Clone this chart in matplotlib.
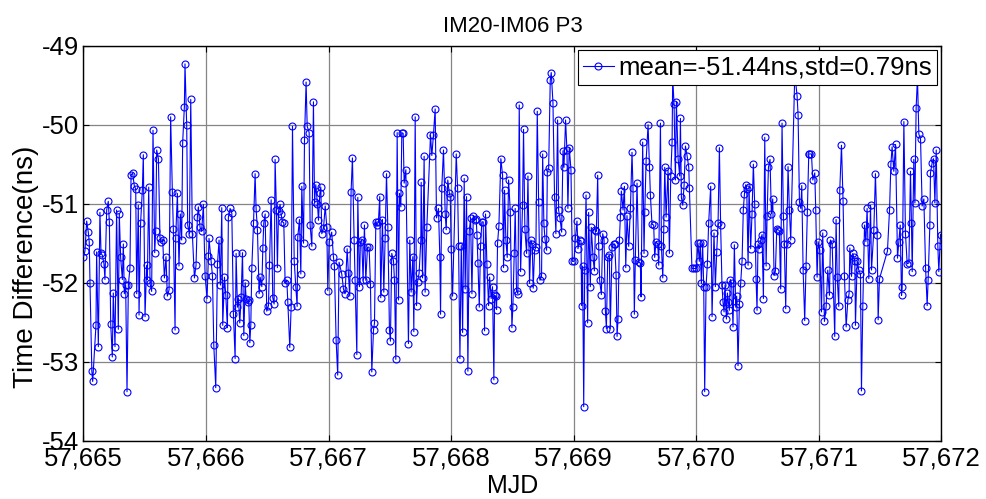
import matplotlib
matplotlib.use("Agg")
import matplotlib.pyplot as plt
from matplotlib import font_manager
from matplotlib.ticker import FuncFormatter
import numpy as np

title = "IM20-IM06 P3"
xlabel = "MJD"
ylabel = "Time Difference(ns)"
legend_label = "mean=-51.44ns,std=0.79ns"
mjd_start = 57665
x_ticks = [57665, 57666, 57667, 57668, 57669, 57670, 57671, 57672]
y_ticks = [-54, -53, -52, -51, -50, -49]

# time offsets (days after MJD 57665) and time differences (ns), read per day
t_day1 = [0.000, 0.012, 0.026, 0.039, 0.047, 0.053, 0.068, 0.075, 0.102, 0.107,
          0.121, 0.134, 0.143, 0.153, 0.167, 0.175, 0.189, 0.202, 0.211, 0.222,
          0.235, 0.243, 0.257, 0.270, 0.284, 0.292, 0.303, 0.317, 0.325, 0.333,
          0.344, 0.355, 0.366, 0.379, 0.388, 0.401, 0.415, 0.426, 0.434, 0.447,
          0.453, 0.466, 0.480, 0.488, 0.502, 0.515, 0.521, 0.532, 0.543, 0.556,
          0.567, 0.581, 0.589, 0.597, 0.611, 0.624, 0.632, 0.646, 0.660, 0.673,
          0.684, 0.698, 0.711, 0.725, 0.733, 0.747, 0.752, 0.766, 0.779, 0.790,
          0.801, 0.809, 0.823, 0.828, 0.842, 0.850, 0.864, 0.875, 0.888, 0.905,
          0.918, 0.929, 0.937, 0.951, 0.964, 0.978, 0.992, 1.008, 1.019, 1.024]
v_day1 = [-51.67, -51.60, -51.22, -51.36, -51.49, -52.00, -53.12, -53.25, -52.53, -51.61,
          -52.81, -51.11, -51.63, -51.65, -51.76, -51.96, -51.08, -50.97, -51.23, -52.52,
          -52.94, -52.13, -52.81, -51.08, -52.59, -51.13, -51.68, -51.96, -51.51, -52.14,
          -52.03, -53.38, -52.03, -51.81, -50.64, -50.61, -50.78, -50.81, -52.14, -51.02,
          -52.41, -51.24, -50.83, -50.38, -52.43, -51.78, -51.96, -50.79, -52.01, -52.11,
          -50.07, -51.62, -51.34, -50.32, -50.43, -51.43, -51.48, -51.46, -51.94, -51.67,
          -52.17, -52.09, -49.90, -50.85, -51.32, -52.60, -51.43, -50.87, -51.79, -51.13,
          -51.46, -50.23, -49.77, -49.23, -50.01, -51.27, -51.38, -49.68, -51.38, -51.94,
          -51.78, -51.17, -51.04, -51.30, -51.35, -51.01, -51.91, -52.20, -51.66, -51.44]

t_day2 = [1.041, 1.052, 1.063, 1.079, 1.093, 1.106, 1.117, 1.128, 1.136, 1.150,
          1.161, 1.174, 1.182, 1.196, 1.210, 1.223, 1.237, 1.245, 1.256, 1.264,
          1.275, 1.286, 1.297, 1.308, 1.319, 1.327, 1.338, 1.348, 1.357, 1.365,
          1.373, 1.387, 1.400, 1.408, 1.419, 1.433, 1.441, 1.455, 1.463, 1.471,
          1.482, 1.495, 1.509, 1.517, 1.531, 1.544, 1.555, 1.563, 1.574, 1.582,
          1.591, 1.604, 1.612, 1.623, 1.634, 1.645, 1.659, 1.667, 1.683, 1.694,
          1.705, 1.719, 1.732, 1.743, 1.748, 1.762, 1.773, 1.781, 1.795, 1.803,
          1.816, 1.825, 1.841, 1.849, 1.863, 1.876, 1.885, 1.895, 1.909, 1.917,
          1.928, 1.936, 1.944, 1.958, 1.972, 1.985, 1.993, 2.004]
v_day2 = [-51.72, -51.91, -52.79, -53.33, -51.76, -51.46, -52.03, -51.05, -52.54, -51.93,
          -52.16, -52.57, -51.17, -51.06, -51.12, -52.39, -52.96, -51.63, -52.31, -52.20,
          -52.51, -52.18, -51.62, -52.67, -52.00, -52.20, -52.24, -52.22, -52.76, -52.53,
          -51.82, -51.25, -50.62, -51.06, -51.33, -52.14, -51.93, -52.05, -51.56, -51.24,
          -51.13, -52.36, -52.29, -51.78, -50.95, -52.19, -52.27, -50.44, -51.08, -51.81,
          -51.09, -51.01, -51.13, -51.23, -51.24, -52.00, -51.97, -52.25, -52.82, -52.31,
          -50.02, -51.72, -52.05, -52.30, -51.42, -51.20, -51.89, -50.78, -51.50, -50.19,
          -49.46, -50.02, -50.10, -51.27, -51.54, -49.71, -50.98, -50.76, -51.01, -51.21,
          -50.87, -50.79, -51.38, -51.31, -51.03, -51.30, -52.10, -51.48]

t_day3 = [2.025, 2.039, 2.047, 2.061, 2.074, 2.085, 2.107, 2.121, 2.134, 2.151,
          2.161, 2.172, 2.183, 2.194, 2.208, 2.216, 2.230, 2.238, 2.251, 2.259,
          2.270, 2.281, 2.292, 2.303, 2.317, 2.330, 2.341, 2.352, 2.366, 2.374,
          2.385, 2.395, 2.406, 2.417, 2.425, 2.439, 2.450, 2.461, 2.472, 2.483,
          2.496, 2.504, 2.515, 2.529, 2.537, 2.548, 2.559, 2.570, 2.578, 2.589,
          2.597, 2.608, 2.616, 2.630, 2.651, 2.662, 2.673, 2.687, 2.695, 2.706,
          2.717, 2.725, 2.738, 2.752, 2.755, 2.766, 2.779, 2.787, 2.801, 2.831,
          2.842, 2.855, 2.869, 2.880, 2.896, 2.907, 2.913, 2.923, 2.937, 2.951,
          2.959, 2.972]
v_day3 = [-51.36, -51.67, -51.79, -52.73, -53.17, -51.74, -51.89, -52.08, -52.14, -51.57,
          -51.88, -52.17, -50.85, -50.42, -51.46, -51.97, -52.91, -50.92, -52.05, -51.48,
          -51.46, -51.97, -51.27, -51.97, -51.55, -51.55, -52.02, -53.13, -52.60, -52.51,
          -51.23, -51.27, -51.23, -50.91, -52.19, -51.20, -52.12, -51.43, -50.62, -51.30,
          -52.60, -52.74, -51.63, -51.72, -51.97, -52.97, -50.10, -52.22, -50.87, -51.04,
          -50.10, -50.11, -50.74, -50.57, -52.77, -51.46, -52.12, -51.67, -52.62, -49.90,
          -52.29, -51.99, -51.88, -51.46, -50.73, -51.94, -50.40, -52.12, -51.30, -50.13,
          -50.39, -50.13, -49.80, -51.18, -51.06, -51.67, -52.40, -50.80, -50.32, -51.13,
          -51.33, -50.70]

t_day4 = [2.984, 2.992, 3.000, 3.011, 3.041, 3.052, 3.060, 3.071, 3.082, 3.093,
          3.106, 3.114, 3.125, 3.136, 3.147, 3.158, 3.169, 3.180, 3.190, 3.204,
          3.210, 3.218, 3.229, 3.239, 3.250, 3.261, 3.272, 3.280, 3.291, 3.305,
          3.313, 3.326, 3.337, 3.348, 3.354, 3.362, 3.370, 3.378, 3.389, 3.405,
          3.419, 3.427, 3.435, 3.446, 3.457, 3.468, 3.482, 3.495, 3.503, 3.514,
          3.522, 3.533, 3.544, 3.555, 3.566, 3.582, 3.590, 3.601, 3.615, 3.626,
          3.639, 3.650, 3.661, 3.669, 3.680, 3.691, 3.702, 3.713, 3.724, 3.737,
          3.746, 3.756, 3.765, 3.778, 3.784, 3.795, 3.808, 3.816, 3.830, 3.843,
          3.854, 3.868, 3.876, 3.887, 3.901, 3.912, 3.920, 3.933, 3.944, 3.952,
          3.963]
v_day4 = [-50.86, -50.91, -51.57, -52.17, -50.37, -50.80, -51.54, -52.96, -51.53, -52.63,
          -50.68, -52.08, -50.91, -53.12, -51.35, -51.18, -52.14, -51.15, -51.20, -51.19,
          -51.39, -51.75, -52.31, -51.54, -51.23, -51.23, -52.61, -51.13, -51.76, -52.29,
          -51.93, -52.20, -52.05, -53.23, -52.16, -52.17, -52.34, -51.50, -51.28, -50.43,
          -50.64, -51.81, -50.83, -51.46, -51.68, -50.70, -51.10, -52.57, -52.31, -51.63,
          -51.06, -52.10, -52.14, -49.75, -51.86, -51.02, -50.06, -51.32, -51.63, -50.65,
          -52.01, -51.46, -51.51, -52.07, -51.59, -51.55, -49.83, -50.98, -51.97, -51.92,
          -50.37, -51.25, -51.45, -51.59, -50.60, -50.55, -49.44, -49.34, -49.72, -50.91,
          -51.38, -49.94, -51.08, -51.18, -51.36, -50.33, -50.54, -49.94, -50.32, -51.06,
          -50.29]

t_day5 = [3.977, 3.988, 4.002, 4.013, 4.026, 4.034, 4.048, 4.059, 4.064, 4.072,
          4.081, 4.089, 4.100, 4.113, 4.121, 4.135, 4.143, 4.157, 4.168, 4.176,
          4.184, 4.195, 4.203, 4.211, 4.225, 4.236, 4.247, 4.258, 4.266, 4.277,
          4.290, 4.298, 4.312, 4.326, 4.334, 4.345, 4.353, 4.361, 4.372, 4.380,
          4.388, 4.402, 4.413, 4.424, 4.434, 4.448, 4.462, 4.475, 4.483, 4.494,
          4.502, 4.516, 4.530, 4.543, 4.549, 4.562, 4.573, 4.579, 4.590, 4.606,
          4.617, 4.625, 4.638, 4.652, 4.660, 4.671, 4.685, 4.693, 4.707, 4.715,
          4.726, 4.734, 4.742, 4.753, 4.769, 4.780, 4.791, 4.802, 4.807, 4.818,
          4.829, 4.837, 4.851, 4.864, 4.870, 4.878, 4.889, 4.900, 4.911, 4.924,
          4.938, 4.943]
v_day5 = [-50.57, -51.73, -51.73, -51.44, -51.22, -51.57, -51.46, -51.47, -52.29, -51.79,
          -53.57, -51.84, -50.89, -52.51, -51.11, -52.05, -51.30, -51.68, -51.85, -51.33,
          -51.35, -50.64, -51.54, -51.97, -52.15, -51.38, -51.46, -52.36, -52.58, -51.68,
          -51.65, -52.58, -51.55, -51.51, -51.51, -51.90, -52.68, -52.46, -51.46, -51.17,
          -50.84, -51.08, -50.78, -51.81, -51.15, -51.54, -51.06, -50.35, -50.80, -52.40,
          -51.71, -50.74, -51.74, -51.75, -52.18, -50.22, -51.63, -51.11, -50.46, -50.00,
          -50.54, -50.89, -51.26, -51.27, -51.68, -51.48, -51.51, -51.78, -49.98, -51.54,
          -51.94, -51.32, -50.54, -51.17, -50.58, -51.63, -50.65, -50.22, -49.40, -49.74,
          -50.70, -49.71, -50.43, -50.65, -49.92, -50.92, -51.02, -50.76, -50.27, -50.39,
          -50.54, -50.80]

t_day6 = [4.964, 4.983, 5.000, 5.013, 5.024, 5.032, 5.041, 5.051, 5.060, 5.068,
          5.079, 5.090, 5.100, 5.117, 5.128, 5.144, 5.155, 5.166, 5.177, 5.188,
          5.198, 5.209, 5.217, 5.226, 5.234, 5.245, 5.253, 5.261, 5.269, 5.277,
          5.288, 5.299, 5.310, 5.321, 5.329, 5.340, 5.351, 5.362, 5.373, 5.383,
          5.392, 5.403, 5.411, 5.422, 5.430, 5.443, 5.454, 5.465, 5.476, 5.487,
          5.495, 5.503, 5.514, 5.525, 5.536, 5.547, 5.558, 5.569, 5.577, 5.588,
          5.601, 5.612, 5.623, 5.634, 5.645, 5.656, 5.666, 5.677, 5.688, 5.699,
          5.710, 5.718, 5.729, 5.737, 5.748, 5.759, 5.770, 5.803, 5.822, 5.830,
          5.841, 5.852, 5.860, 5.871, 5.884, 5.895, 5.906, 5.917]
v_day6 = [-51.82, -51.82, -51.82, -51.50, -51.73, -51.50, -52.01, -51.50, -52.05, -53.38,
          -52.05, -51.76, -51.25, -50.78, -52.43, -51.37, -52.05, -51.61, -51.25, -50.29,
          -51.27, -52.03, -52.24, -52.37, -52.03, -52.46, -52.13, -52.24, -52.35, -51.96,
          -52.01, -52.56, -51.52, -52.31, -52.17, -53.05, -52.27, -52.00, -51.72, -51.08,
          -50.88, -50.76, -50.81, -51.78, -50.79, -51.57, -51.13, -50.50, -51.01, -51.95,
          -52.35, -51.51, -51.57, -51.46, -51.39, -52.20, -50.16, -51.79, -51.16, -50.54,
          -50.44, -51.13, -50.94, -51.91, -51.85, -51.32, -51.33, -51.34, -52.08, -49.98,
          -51.16, -51.51, -52.33, -51.51, -50.53, -51.08, -51.46, -49.35, -49.64, -49.88,
          -50.98, -51.06, -50.77, -51.84, -52.48, -51.79, -51.11, -50.37]

t_day7 = [5.923, 5.939, 5.950, 5.966, 5.974, 5.985, 5.993, 6.007, 6.021, 6.031,
          6.045, 6.059, 6.072, 6.086, 6.094, 6.108, 6.129, 6.140, 6.149, 6.162,
          6.170, 6.184, 6.197, 6.208, 6.222, 6.236, 6.246, 6.252, 6.266, 6.276,
          6.285, 6.293, 6.298, 6.312, 6.325, 6.339, 6.347, 6.358, 6.372, 6.383,
          6.393, 6.407, 6.421, 6.429, 6.448, 6.461, 6.475, 6.483, 6.494, 6.559,
          6.576, 6.587, 6.597, 6.611, 6.625, 6.641, 6.652, 6.663, 6.674, 6.679,
          6.693, 6.706, 6.720, 6.734, 6.747, 6.755, 6.761, 6.774, 6.783, 6.793,
          6.804, 6.815, 6.829, 6.842, 6.856, 6.870, 6.883, 6.891, 6.905, 6.910,
          6.924, 6.935, 6.946, 6.957, 6.970, 6.978, 6.992]
v_day7 = [-50.37, -50.37, -50.70, -50.61, -51.08, -51.93, -51.48, -51.59, -52.37, -51.37,
          -52.49, -52.30, -51.84, -52.16, -51.46, -51.51, -52.68, -51.20, -51.93, -52.30,
          -50.83, -50.26, -50.97, -51.91, -52.56, -52.22, -52.14, -51.56, -51.92, -51.63,
          -51.68, -51.73, -52.54, -51.72, -51.84, -51.89, -53.37, -52.30, -51.27, -51.48,
          -51.06, -51.95, -51.02, -51.84, -51.33, -50.62, -51.39, -52.47, -51.95, -51.60,
          -51.08, -50.50, -50.28, -50.59, -50.25, -51.69, -51.48, -51.27, -52.16, -52.06,
          -49.96, -51.38, -51.76, -51.75, -50.59, -51.25, -51.86, -50.44, -50.99, -49.79,
          -49.40, -50.12, -50.18, -51.03, -50.94, -51.81, -52.29, -51.96, -51.27, -50.61,
          -50.48, -50.43, -50.99, -50.32, -51.53, -51.86, -51.39]

t_all = t_day1 + t_day2 + t_day3 + t_day4 + t_day5 + t_day6 + t_day7
v_all = v_day1 + v_day2 + v_day3 + v_day4 + v_day5 + v_day6 + v_day7
mjd = mjd_start + np.array(t_all)
tdiff = np.array(v_all)

names = {f.name for f in font_manager.fontManager.ttflist}
main_font = "Liberation Sans" if "Liberation Sans" in names else "DejaVu Sans"
plt.rcParams["font.family"] = [main_font, "DejaVu Sans"]

W, H = 987, 499
fig = plt.figure(figsize=(W / 100, H / 100), dpi=100)
fig.patch.set_facecolor("white")
ax_l, ax_r, ax_t, ax_b = 83.5, 941.5, 45.7, 440.7
ax = fig.add_axes([ax_l / W, 1 - ax_b / H, (ax_r - ax_l) / W, (ax_b - ax_t) / H])

ax.plot(mjd, tdiff, "-o", color="#0000ff", lw=0.8, ms=5.0, mfc="none",
        mec="#0000ff", mew=0.8, label=legend_label, zorder=3)

ax.set_xlim(x_ticks[0], x_ticks[-1])
ax.set_ylim(y_ticks[0], y_ticks[-1])
ax.set_xticks(x_ticks)
ax.set_yticks(y_ticks)
ax.xaxis.set_major_formatter(FuncFormatter(lambda v, p: f"{v:,.0f}"))
ax.yaxis.set_major_formatter(FuncFormatter(lambda v, p: f"{v:.0f}"))
ax.grid(True, color="#858585", lw=0.9, ls="-")
ax.set_axisbelow(True)
ax.tick_params(direction="in", top=True, right=True, length=4, width=0.8,
               labelsize=18.5, pad=4, colors="black")
ax.tick_params(axis="y", pad=3)
for s in ax.spines.values():
    s.set_linewidth(1.0)
    s.set_color("black")

ax.set_xlabel(xlabel, fontsize=18)
ax.xaxis.set_label_coords(0.5, -0.085)
ax.set_ylabel(ylabel, fontsize=20)
ax.yaxis.set_label_coords(-0.052, 0.441)
ax.set_title(title, fontsize=16, pad=10)

leg = ax.legend(loc="upper right", bbox_to_anchor=(937.5 / W, 1 - 50.5 / H),
                bbox_transform=fig.transFigure, borderaxespad=0, fontsize=18.5,
                handlelength=1.2, handletextpad=0.2, borderpad=0.2,
                fancybox=False, framealpha=1, edgecolor="black", numpoints=1)
leg.get_frame().set_linewidth(0.8)

fig.savefig("out.png", dpi=100, facecolor="white")
